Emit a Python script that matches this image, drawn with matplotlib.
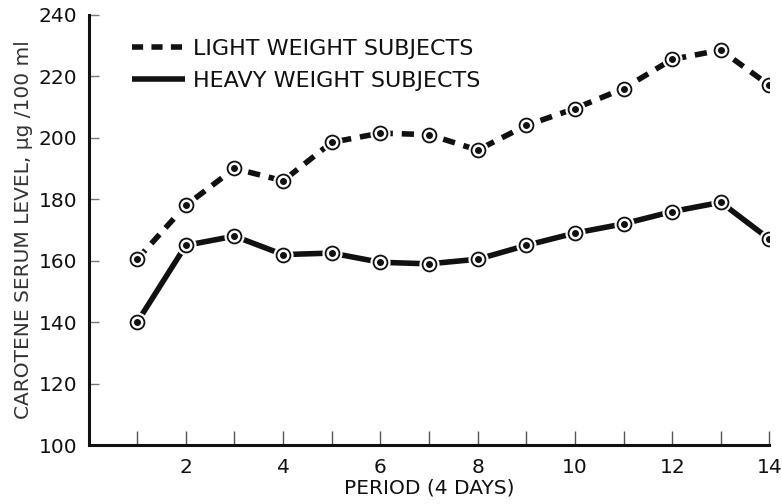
import matplotlib
matplotlib.use('Agg')
import matplotlib.pyplot as plt
from matplotlib.lines import Line2D

plt.rcParams['font.family'] = ['DejaVu Sans']

# carotene serum level per period (ug / 100 ml)
period = list(range(1, 15))
light = [160.5, 178, 190, 186, 198.5, 201.5, 201, 196, 204, 209.5, 216, 225.5, 228.5, 217]
heavy = [140, 165, 168, 162, 162.5, 159.5, 159, 160.5, 165, 169, 172, 176, 179, 167]

xtick_labels = ['' if p % 2 else str(p) for p in period]
yticks = [100, 120, 140, 160, 180, 200, 220, 240]

ink = '#111111'
fs = 14.5

fig = plt.figure(figsize=(7.82, 5.04), dpi=100)
ax = fig.add_axes([0.1132, 0.1165, 0.8708, 0.8543])

def draw_series(x, y, **style):
    ax.plot(x, y, color=ink, lw=4.0, solid_capstyle='butt', zorder=2, **style)
    # white halo cuts the line short of each point
    ax.plot(x, y, ls='none', marker='o', ms=13.5, mfc='white', mec='white', zorder=3)
    ax.plot(x, y, ls='none', marker='o', ms=10, mfc='white', mec=ink, mew=1.3, zorder=4)
    ax.plot(x, y, ls='none', marker='o', ms=4, mfc=ink, mec=ink, zorder=5)

draw_series(period, light, dashes=(2.2, 1.6))
draw_series(period, heavy)

ax.set_xlim(0, 14)
ax.set_ylim(100, 240)
ax.set_xticks(period)
ax.set_xticklabels(xtick_labels)
ax.set_yticks(yticks)

for s in ['top', 'right']:
    ax.spines[s].set_visible(False)
for s in ['left', 'bottom']:
    ax.spines[s].set_linewidth(2.2)
    ax.spines[s].set_color(ink)

ax.tick_params(axis='x', direction='in', length=10, width=1, color='#555555',
               pad=9, labelsize=fs, labelcolor=ink)
ax.tick_params(axis='y', direction='in', length=7, width=1, color='#777777',
               pad=8, labelsize=fs, labelcolor=ink)

ax.set_xlabel('PERIOD (4 DAYS)', fontsize=fs, color=ink, labelpad=1)
ax.set_ylabel('CAROTENE SERUM LEVEL, \u00b5g /100 ml', fontsize=fs, color='#333333', labelpad=4)

handles = [Line2D([], [], color=ink, lw=4.0, dashes=(2.0, 1.5), solid_capstyle='butt'),
           Line2D([], [], color=ink, lw=4.0, solid_capstyle='butt')]
ax.legend(handles, ['LIGHT WEIGHT SUBJECTS', 'HEAVY WEIGHT SUBJECTS'],
          loc='upper left', bbox_to_anchor=(0.035, 0.99), frameon=False,
          fontsize=16, handlelength=2.35, handletextpad=0.4, labelspacing=0.55,
          labelcolor=ink)

fig.savefig('out.png', dpi=100, facecolor='white')
